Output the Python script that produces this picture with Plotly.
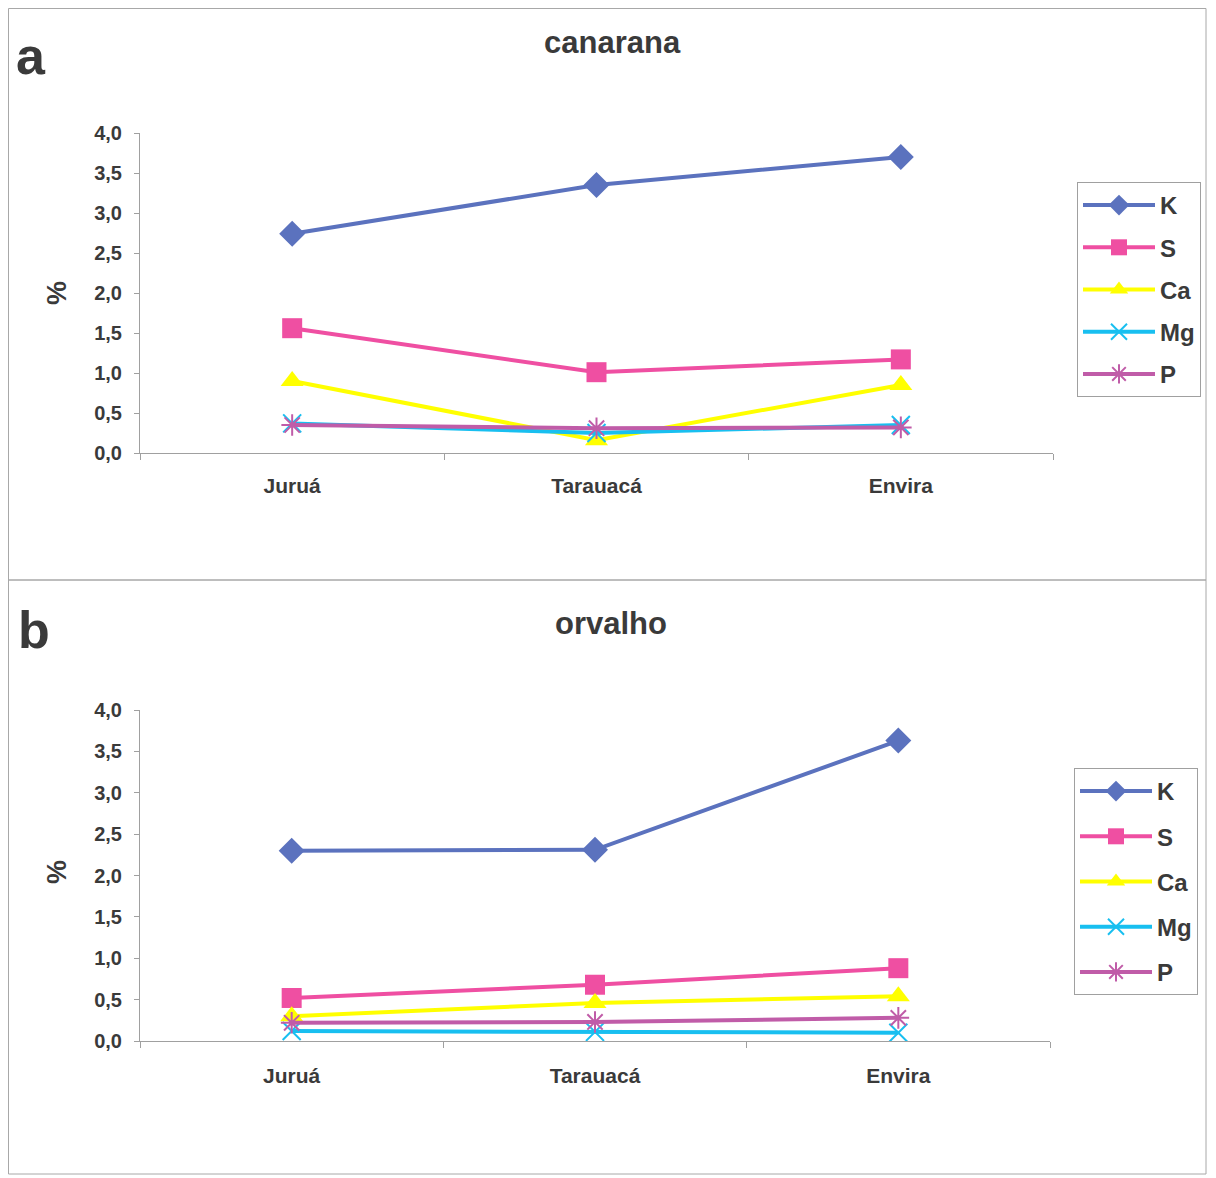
import plotly.graph_objects as go

W, H = 1216, 1178
OFF = 8  # page body margin of the html page

sites = ["Juruá", "Tarauacá", "Envira"]
series_names = ["K", "S", "Ca", "Mg", "P"]

canarana_K = [2.74, 3.35, 3.70]
canarana_S = [1.56, 1.01, 1.17]
canarana_Ca = [0.90, 0.16, 0.85]
canarana_Mg = [0.37, 0.25, 0.35]
canarana_P = [0.35, 0.31, 0.32]

orvalho_K = [2.30, 2.31, 3.63]
orvalho_S = [0.52, 0.68, 0.88]
orvalho_Ca = [0.30, 0.46, 0.54]
orvalho_Mg = [0.12, 0.11, 0.10]
orvalho_P = [0.22, 0.23, 0.28]

y_ticks = [0, 0.5, 1.0, 1.5, 2.0, 2.5, 3.0, 3.5, 4.0]

colors = {"K": "#5b72be", "S": "#ef4fa2", "Ca": "#ffff00", "Mg": "#18bff0", "P": "#c05ca8"}
symbols = {"K": "diamond", "S": "square", "Ca": "triangle-up", "Mg": "x-thin-open", "P": "asterisk-open"}
msizes = {"K": 20, "S": 20, "Ca": 20, "Mg": 18, "P": 18}

TXT = "#3a3a3a"
FONT = "Liberation Sans"

fig = go.Figure()

panels = [
    ("", "legend", [canarana_K, canarana_S, canarana_Ca, canarana_Mg, canarana_P]),
    ("2", "legend2", [orvalho_K, orvalho_S, orvalho_Ca, orvalho_Mg, orvalho_P]),
]

for ax, leg, data in panels:
    for name, vals in zip(series_names, data):
        m = dict(symbol=symbols[name], size=msizes[name], color=colors[name])
        if name in ("Mg", "P"):
            m["line"] = dict(color=colors[name], width=2)
        fig.add_trace(go.Scatter(
            x=sites, y=vals, name=name, mode="lines+markers",
            line=dict(color=colors[name], width=4),
            marker=m,
            xaxis="x" + ax, yaxis="y" + ax, legend=leg,
            legendgroup=name + ax,
        ))


def px_x(v):
    return (v - OFF) / W


def px_y(v):
    return 1 - (v - OFF) / H


axis_common = dict(showgrid=False, zeroline=False, showline=True, linecolor="#a0a0a0",
                   linewidth=1, ticks="outside", tickcolor="#a0a0a0", automargin=False,
                   tickfont=dict(family=FONT, size=20, color=TXT, weight="bold"))
xfont = dict(family=FONT, size=21, color=TXT, weight="bold")

fig.update_layout(
    template="none",
    width=W, height=H, margin=dict(l=0, r=0, t=0, b=0, autoexpand=False),
    paper_bgcolor="white", plot_bgcolor="white",
    separators=",.",
    font=dict(family=FONT, color=TXT),
    xaxis=dict(domain=[px_x(140), px_x(1053)], anchor="y", type="category",
               range=[-0.5, 2.5], tickson="boundaries", ticklen=6,
               ticklabelstandoff=14, **{**axis_common, "tickfont": xfont}),
    yaxis=dict(domain=[px_y(453), px_y(133)], anchor="x", range=[0, 4],
               tickvals=y_ticks, tickformat=".1f", ticklen=5, ticklabelstandoff=8,
               **axis_common),
    xaxis2=dict(domain=[px_x(140), px_x(1050)], anchor="y2", type="category",
                range=[-0.5, 2.5], tickson="boundaries", ticklen=6,
                ticklabelstandoff=16, **{**axis_common, "tickfont": xfont}),
    yaxis2=dict(domain=[px_y(1041), px_y(710)], anchor="x2", range=[0, 4],
                tickvals=y_ticks, tickformat=".1f", ticklen=5, ticklabelstandoff=8,
                **axis_common),
    legend=dict(x=px_x(1077), y=px_y(182), xanchor="left", yanchor="top",
                bordercolor="#a0a0a0", borderwidth=1, bgcolor="white",
                font=dict(family=FONT, size=24, color=TXT, weight="bold"),
                tracegroupgap=8, itemwidth=72),
    legend2=dict(x=px_x(1074), y=px_y(768), xanchor="left", yanchor="top",
                 bordercolor="#a0a0a0", borderwidth=1, bgcolor="white",
                 font=dict(family=FONT, size=24, color=TXT, weight="bold"),
                 tracegroupgap=11, itemwidth=72),
    showlegend=True,
)

# panel frames
fig.add_shape(type="rect", xref="paper", yref="paper",
              x0=px_x(8.5), x1=px_x(1206), y0=px_y(580), y1=px_y(8.5),
              line=dict(color="#a8a8a8", width=1), layer="below")
fig.add_shape(type="rect", xref="paper", yref="paper",
              x0=px_x(8.5), x1=px_x(1206), y0=px_y(1174), y1=px_y(580),
              line=dict(color="#a8a8a8", width=1), layer="below")

annotations = [
    dict(text="a", x=px_x(31), y=px_y(56), size=52),
    dict(text="b", x=px_x(34), y=px_y(630), size=52),
    dict(text="canarana", x=px_x(612), y=px_y(42), size=31),
    dict(text="orvalho", x=px_x(611), y=px_y(623), size=31),
]
for a in annotations:
    fig.add_annotation(text=a["text"], x=a["x"], y=a["y"], xref="paper", yref="paper",
                       showarrow=False, xanchor="center", yanchor="middle",
                       font=dict(family=FONT, size=a["size"], color=TXT, weight="bold"))

for yy in (293, 872):
    fig.add_annotation(text="%", x=px_x(57), y=px_y(yy), xref="paper", yref="paper",
                       showarrow=False, textangle=-90, xanchor="center", yanchor="middle",
                       font=dict(family=FONT, size=27, color=TXT, weight="bold"))

fig.write_html("out.html")
